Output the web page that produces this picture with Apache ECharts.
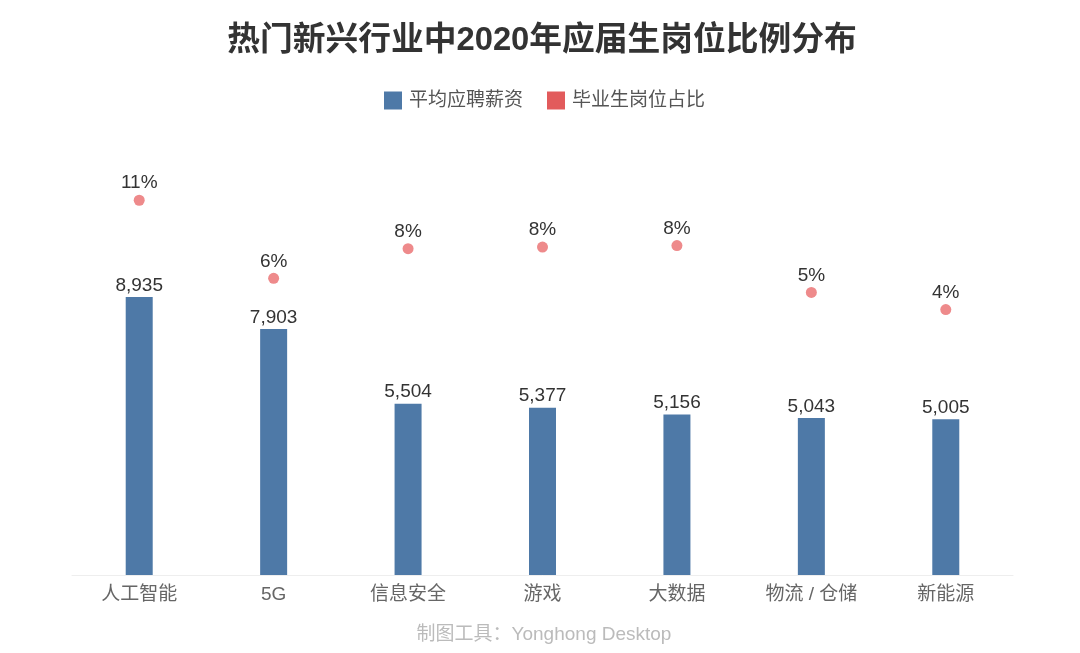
<!DOCTYPE html>
<html>
<head>
<meta charset="utf-8">
<style>
html, body { margin: 0; padding: 0; background: #fff; }
#main { width: 1080px; height: 653px; }
</style>
<script src="https://cdn.jsdelivr.net/npm/echarts@6/dist/echarts.min.js"></script>
</head>
<body>
<div id="main"></div>
<script>
var categories = ['人工智能', '5G', '信息安全', '游戏', '大数据', '物流 / 仓储', '新能源'];
var salary = [8935, 7903, 5504, 5377, 5156, 5043, 5005];
// 圆点位置看图估的，标签取整后就是图上的百分比
var ratio = [11.0, 6.0, 7.9, 8.0, 8.1, 5.1, 4.0];

var fontFamily = '"Liberation Sans", "Noto Sans CJK SC", sans-serif';
var myChart = echarts.init(document.getElementById('main'));
var option = {
    animation: false,
    textStyle: { fontFamily: fontFamily },
    title: [{
        text: '热门新兴行业中2020年应届生岗位比例分布',
        left: 537,
        top: 36,
        textAlign: 'center',
        textVerticalAlign: 'middle',
        textStyle: { fontSize: 32.75, fontWeight: 'bold', color: '#333', fontFamily: fontFamily }
    }, {
        text: '制图工具：Yonghong Desktop',
        left: 539,
        top: 630,
        textAlign: 'center',
        textVerticalAlign: 'middle',
        textStyle: { fontSize: 19, fontWeight: 'normal', color: '#bbb', fontFamily: fontFamily }
    }],
    legend: {
        top: 86,
        left: 379,
        itemWidth: 18,
        itemHeight: 18,
        itemGap: 24,
        icon: 'rect',
        textStyle: { fontSize: 19, color: '#555', fontFamily: fontFamily, padding: [0, 0, 0, 2] },
        data: [
            { name: '平均应聘薪资', itemStyle: { color: '#4e79a7' } },
            { name: '毕业生岗位占比', itemStyle: { color: '#e25b5c', opacity: 1 } }
        ]
    },
    grid: { left: 72, right: 67, top: 130, bottom: 78 },
    xAxis: {
        type: 'category',
        data: categories,
        axisLine: { lineStyle: { color: '#eee' } },
        axisTick: { alignWithLabel: true, length: 3, lineStyle: { color: '#eee' } },
        axisLabel: { fontSize: 19, color: '#666', margin: 10, interval: 0 }
    },
    yAxis: [{
        type: 'value',
        min: 0,
        max: 14300,
        show: false,
        splitLine: { show: false }
    }, {
        type: 'value',
        min: -13,
        max: 15.5,
        show: false,
        splitLine: { show: false }
    }],
    series: [{
        name: '平均应聘薪资',
        type: 'bar',
        data: salary,
        barWidth: 27,
        itemStyle: { color: '#4e79a7' },
        label: {
            show: true,
            position: 'top',
            distance: 2,
            fontSize: 19,
            color: '#333',
            formatter: function (p) { return echarts.format.addCommas(p.value); }
        }
    }, {
        name: '毕业生岗位占比',
        type: 'scatter',
        yAxisIndex: 1,
        data: ratio,
        symbolSize: 11,
        itemStyle: { color: '#ee8a8b', opacity: 1 },
        label: {
            show: true,
            position: 'top',
            distance: 2,
            fontSize: 19,
            color: '#333',
            formatter: function (p) { return Math.round(p.value) + '%'; }
        }
    }]
};
myChart.setOption(option);
</script>
</body>
</html>
